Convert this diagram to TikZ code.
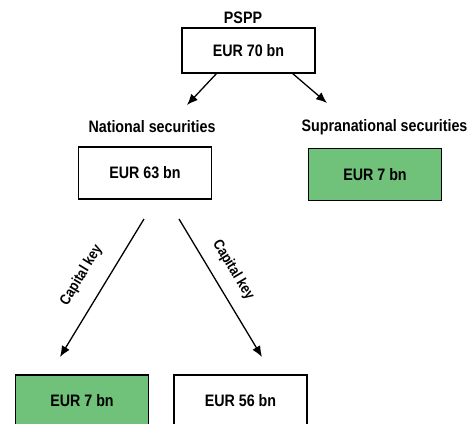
\documentclass[tikz,border=0pt]{standalone}
\usepackage{fontspec}
\setmainfont{Liberation Sans}[FakeStretch=0.86]
\usepackage{xcolor}
\usetikzlibrary{arrows.meta}

\definecolor{keygreen}{RGB}{112,193,122}

\tikzset{
  valbox/.style   = {draw, line width=1.2pt, fill=white, minimum width=133pt,
                     minimum height=52pt, inner sep=0pt,
                     font=\fontsize{16.6}{18}\selectfont\bfseries},
  greenbox/.style = {valbox, fill=keygreen},
  headlbl/.style  = {inner sep=0pt, font=\fontsize{16.6}{18}\selectfont\bfseries},
  keylbl/.style   = {inner sep=0pt, font=\fontsize{14.8}{17}\selectfont\bfseries},
  flow/.style     = {line width=1.3pt, -{Latex[length=11pt,width=9pt]}}
}

\begin{document}
\begin{tikzpicture}[x=1pt, y=-1pt]

\clip[use as bounding box] (0,0) rectangle (471,423);

% level 1
\node[headlbl] (pspp)  at (243, 18)   {PSPP};
\node[valbox, minimum height=45pt] (total) at (248.5, 50.5) {EUR 70 bn};

% level 2
\node[headlbl] (natlbl) at (152, 127)   {National securities};
\node[valbox]  (nat)    at (145, 173)   {EUR 63 bn};

\node[headlbl]  (suplbl) at (384.5, 127) {Supranational securities};
\node[greenbox] (sup)    at (375, 174.5) {EUR 7 bn};

% level 3
\node[greenbox] (natgreen) at (82, 401)    {EUR 7 bn};
\node[valbox]   (natrest)  at (240.5, 401) {EUR 56 bn};

% arrow ends
\coordinate (t1) at (217, 73);
\coordinate (t2) at (292, 73);
\coordinate (h1) at (187, 105);
\coordinate (h2) at (327, 103);
\coordinate (n1) at (144, 219);
\coordinate (n2) at (179, 219);
\coordinate (k1) at (60, 357);
\coordinate (k2) at (262, 357);

\draw[flow] (t1) -- (h1);
\draw[flow] (t2) -- (h2);

\draw[flow] (n1) -- node[keylbl, sloped, above=16.5pt] (keyleft) {Capital key} (k1);
\draw[flow] (n2) -- node[keylbl, sloped, above=12.5pt, pos=0.445] (keyright) {Capital key} (k2);

\end{tikzpicture}
\end{document}
